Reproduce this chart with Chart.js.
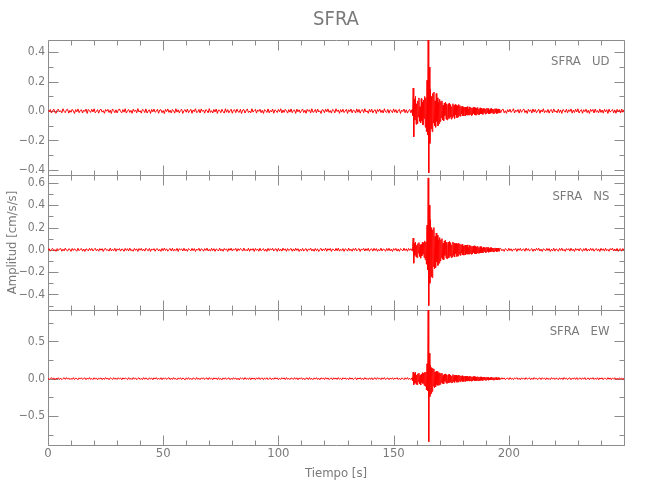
<!DOCTYPE html>
<html>
<head>
<title>SFRA</title>
<script src="https://cdn.jsdelivr.net/npm/chart.js"></script>
<style>
  body { margin: 0; background: #fff; }
  #wrap { width: 650px; height: 500px; }
</style>
</head>
<body>
<div id="wrap"><canvas id="seismo" width="650" height="500"></canvas></div>
<script>
// station / components
const station = 'SFRA';
const channels = ['UD', 'NS', 'EW'];

// sampling of the traces (s): quiet part, event part, coda/quiet part
const preStart = 0, preStep = 0.5;
const evStart = 158, evStep = 0.25;
const postStart = 196.5, postStep = 0.5;

// axis ticks and ranges
const timeTicks = [0, 50, 100, 150, 200];
const timeRange = [0, 250];
const udTicks = [-0.4, -0.2, 0, 0.2, 0.4];
const nsTicks = [-0.4, -0.2, 0, 0.2, 0.4, 0.6];
const ewTicks = [-0.5, 0, 0.5];
const udRange = [-0.435, 0.484];
const nsRange = [-0.54, 0.671];
const ewRange = [-0.889, 0.921];

// UD component (cm/s/s)
const udPre = [
  0.006,-0.004,0.011,-0.013,0.002,0.014,-0.009,-0.015,0.008,0.012,-0.006,0.003,-0.012,0.016,-0.002,-0.011,0.009,0.013,-0.014,0.005,
  -0.008,0.012,0.001,-0.016,0.01,-0.005,0.015,-0.011,0.004,0.009,-0.013,0.007,-0.003,0.014,-0.016,0.011,0.002,-0.009,0.012,-0.006,
  0.016,-0.012,-0.003,0.01,-0.014,0.008,0.013,-0.007,0.003,-0.015,0.011,-0.001,0.012,-0.01,0.006,-0.016,0.014,0.004,-0.011,0.009,
  -0.013,0.007,0.015,-0.004,-0.012,0.01,-0.007,0.016,-0.014,0.002,0.011,-0.009,0.005,-0.015,0.013,-0.003,0.008,-0.012,0.017,-0.006,
  0.003,-0.014,0.012,0.006,-0.01,0.015,-0.013,0.001,0.009,-0.016,0.011,-0.005,0.014,-0.008,-0.002,0.013,-0.015,0.007,0.01,-0.011,
  0.004,-0.017,0.012,-0.003,0.015,-0.009,0.006,-0.013,0.011,0.002,-0.014,0.016,-0.007,0.009,-0.012,0.005,0.013,-0.016,0.003,0.01,
  -0.008,0.014,-0.011,0.001,0.012,-0.015,0.008,-0.004,0.016,-0.01,-0.006,0.011,-0.013,0.015,-0.002,0.007,-0.014,0.01,0.004,-0.012,
  0.017,-0.009,0.003,-0.013,0.011,-0.006,0.014,-0.016,0.008,0.005,-0.011,0.012,-0.003,-0.014,0.016,-0.008,0.01,-0.012,0.002,0.013,
  -0.015,0.006,0.009,-0.011,0.014,-0.004,-0.009,0.012,-0.016,0.007,0.011,-0.013,0.003,0.015,-0.01,0.001,-0.012,0.016,-0.007,0.004,
  0.012,-0.014,0.008,-0.002,0.013,-0.011,0.006,-0.016,0.01,0.003,-0.009,0.015,-0.012,0.005,-0.006,0.014,-0.015,0.009,0.002,-0.01,
  0.011,-0.004,0.016,-0.013,0.007,-0.009,0.012,0.001,-0.014,0.01,-0.007,0.015,-0.011,0.004,0.008,-0.016,0.013,-0.005,0.009,-0.012,
  0.003,0.014,-0.01,0.006,-0.015,0.012,-0.002,0.009,-0.013,0.016,-0.008,-0.004,0.011,-0.012,0.014,-0.006,0.002,-0.016,0.01,0.007,
  -0.011,0.013,-0.005,0.015,-0.009,0.004,-0.014,0.011,0.006,-0.012,0.016,-0.003,0.008,-0.015,0.01,-0.007,0.013,-0.01,0.001,0.012,
  -0.016,0.009,-0.004,0.014,-0.012,0.007,0.003,-0.013,0.015,-0.008,0.011,-0.014,0.005,0.01,-0.011,0.016,-0.006,0.002,-0.015,0.012,
  -0.007,0.013,-0.012,0.004,0.009,-0.016,0.011,-0.003,0.014,-0.01,0.006,-0.013,0.016,-0.005,-0.009,0.012,-0.014,0.008,0.003,-0.011,
  0.015,-0.008,0.01,-0.013,0.005,0.012,-0.016,0.007,-0.003,0.014,-0.011,0.009,-0.014,0.004,0.011,-0.012
];
const udEvent = [
  0.01,-0.03,0.157,-0.175,
  0.08,-0.06,0.1,-0.09,0.05,-0.085,0.07,-0.04,0.09,-0.07,0.03,-0.08,0.085,-0.065,0.06,-0.095,0.075,-0.05,0.1,-0.11,0.09,
  -0.14,0.21,-0.16,0.484,
  -0.42,0.3,-0.22,
  0.15,-0.12,0.1,-0.14,0.12,-0.08,0.13,-0.1,0.07,-0.11,0.12,-0.07,0.09,-0.1,0.06,-0.085,0.08,
  -0.07,0.065,-0.045,0.07,-0.06,0.04,-0.065,0.055,-0.03,0.06,
  -0.055,0.05,-0.06,0.035,0.05,-0.05,0.055,-0.04,0.045,-0.055,
  0.03,-0.045,0.05,-0.035,0.04,-0.05,0.045,-0.025,0.04,-0.045,
  0.035,-0.04,0.045,-0.03,0.038,
  -0.035,0.03,-0.02,0.034,-0.03,0.025,-0.033,0.018,0.028,-0.031,
  0.026,-0.024,0.03,-0.028,0.015,-0.026,0.029,-0.022,0.025,-0.03,
  0.02,-0.027,0.024,-0.016,0.026,-0.025,0.022,-0.028,0.018,-0.02,
  0.025,-0.023,0.014,-0.024,0.022,-0.019,
  0.021,-0.018,0.012,-0.022,0.019,-0.01,0.017,-0.02,0.015,-0.016,
  0.02,-0.012,0.018,-0.019,0.008,-0.017,0.016,-0.014,0.019,-0.011,
  0.014,-0.018,0.012,-0.015,0.017,-0.009,0.016,-0.017,0.011,-0.014,
  0.015,-0.012,0.013
];
const udPost = [
  -0.011,0.008,0.014,-0.012,0.003,-0.015,0.01,-0.006,0.013,-0.009,0.002,0.016,-0.013,0.007,-0.004,0.011,-0.014,0.012,-0.008,0.005,
  0.015,-0.01,0.004,-0.016,0.012,-0.003,0.009,-0.013,0.014,-0.007,0.011,-0.012,0.001,0.013,-0.015,0.008,-0.006,0.016,-0.011,0.003,
  -0.009,0.012,-0.014,0.006,0.01,-0.013,0.015,-0.005,0.002,-0.012,0.014,-0.01,0.008,-0.016,0.011,0.004,-0.008,0.013,-0.012,0.009,
  -0.003,0.015,-0.014,0.007,-0.01,0.012,-0.006,0.016,-0.013,0.002,0.01,-0.015,0.009,-0.004,0.013,-0.011,0.006,-0.016,0.012,-0.002,
  0.011,-0.013,0.014,-0.008,0.004,-0.012,0.015,-0.009,0.007,-0.014,0.012,-0.005,0.01,-0.016,0.013,-0.007,0.003,0.011,-0.012,0.008,
  -0.015,0.012,-0.004,0.009,-0.013,0.014,-0.008,0.01
];

// NS component
const nsPre = [
  -0.007,0.01,-0.012,0.004,0.013,-0.009,0.002,-0.014,0.011,-0.005,0.008,0.012,-0.013,0.006,-0.01,0.015,-0.003,-0.011,0.009,0.005,
  -0.014,0.012,-0.006,0.01,-0.002,-0.013,0.014,-0.008,0.004,0.011,-0.012,0.007,-0.015,0.009,0.003,-0.01,0.013,-0.006,0.012,-0.011,
  0.002,0.014,-0.009,0.006,-0.013,0.011,-0.004,0.01,-0.015,0.008,0.012,-0.007,0.003,-0.012,0.015,-0.01,0.005,-0.008,0.013,-0.014,
  0.009,-0.003,0.011,-0.012,0.007,0.004,-0.014,0.013,-0.006,0.01,-0.011,0.015,-0.008,0.002,-0.013,0.012,-0.005,0.009,-0.015,0.011,
  -0.004,0.013,-0.01,0.006,-0.012,0.014,0.001,-0.009,0.012,-0.015,0.008,-0.003,0.011,-0.013,0.007,0.01,-0.011,0.004,-0.014,0.012,
  -0.008,0.015,-0.006,0.009,-0.013,0.003,0.012,-0.01,0.014,-0.012,0.005,-0.007,0.013,-0.015,0.01,-0.002,0.008,-0.011,0.014,-0.009,
  0.006,-0.014,0.012,0.002,-0.01,0.013,-0.008,0.011,-0.015,0.007,-0.004,0.014,-0.012,0.009,0.003,-0.013,0.011,-0.006,0.015,-0.01,
  0.004,-0.012,0.013,-0.007,0.01,-0.014,0.008,0.001,-0.011,0.015,-0.009,0.006,-0.013,0.012,-0.003,0.009,-0.015,0.011,-0.005,0.014,
  -0.011,0.007,-0.002,0.013,-0.014,0.01,-0.006,0.012,0.004,-0.012,0.015,-0.008,0.003,-0.01,0.014,-0.013,0.009,-0.004,0.011,-0.015,
  0.012,-0.005,0.008,-0.013,0.014,-0.009,0.002,0.011,-0.012,0.006,-0.015,0.013,-0.007,0.01,-0.003,0.014,-0.011,0.005,0.009,-0.014,
  0.013,-0.01,0.006,-0.012,0.015,-0.004,0.009,-0.014,0.011,-0.007,0.003,0.012,-0.013,0.008,-0.011,0.014,-0.006,0.01,-0.015,0.005,
  -0.009,0.013,-0.012,0.004,0.011,-0.014,0.007,-0.002,0.015,-0.01,0.006,-0.013,0.012,-0.008,0.009,-0.015,0.003,0.013,-0.011,0.008,
  -0.006,0.014,-0.013,0.01,-0.004,0.012,-0.015,0.007,0.002,-0.011,0.013,-0.009,0.015,-0.012,0.005,-0.007,0.011,-0.014,0.009,0.003,
  -0.012,0.015,-0.008,0.006,-0.013,0.011,-0.005,0.014,-0.01,0.002,0.012,-0.015,0.008,-0.003,0.013,-0.011,0.01,-0.007,0.014,-0.013,
  0.005,0.009,-0.012,0.013,-0.006,0.011,-0.014,0.004,-0.009,0.015,-0.011,0.007,0.003,-0.013,0.012,-0.008,0.014,-0.01,0.006,-0.015,
  0.011,-0.004,0.013,-0.012,0.008,-0.014,0.01,0.002,-0.011,0.015,-0.007,0.009,-0.013,0.012,-0.005,0.01
];
const nsEvent = [
  -0.01,0.03,0.105,-0.12,
  0.06,-0.05,0.07,-0.065,0.04,-0.07,0.055,-0.03,0.065,-0.06,0.045,-0.075,0.05,-0.055,0.07,-0.04,0.06,-0.07,0.08,-0.09,0.07,
  -0.13,0.22,-0.18,0.645,
  -0.5,0.4,-0.3,
  0.27,-0.24,0.2,-0.25,0.18,-0.15,0.2,-0.17,0.12,-0.16,0.15,-0.11,0.13,-0.14,0.09,-0.12,0.11,
  -0.1,0.09,-0.07,0.1,-0.085,0.06,-0.09,0.08,-0.05,0.085,
  -0.075,0.07,-0.08,0.05,0.07,-0.07,0.075,-0.055,0.065,-0.07,
  0.045,-0.065,0.07,-0.05,0.06,-0.065,0.055,-0.035,0.058,-0.06,
  0.05,-0.055,0.06,-0.04,0.052,
  -0.05,0.045,-0.03,0.05,-0.046,0.035,-0.048,0.028,0.042,-0.045,
  0.04,-0.036,0.044,-0.04,0.022,-0.038,0.042,-0.032,0.036,-0.04,
  0.03,-0.038,0.034,-0.024,0.036,-0.034,0.03,-0.037,0.025,-0.028,
  0.032,-0.03,0.02,-0.031,0.028,-0.026,
  0.028,-0.025,0.016,-0.027,0.024,-0.014,0.022,-0.025,0.019,-0.021,
  0.024,-0.015,0.021,-0.022,0.01,-0.02,0.019,-0.017,0.02,-0.013,
  0.016,-0.019,0.014,-0.016,0.017,-0.01,0.016,-0.017,0.012,-0.014,
  0.015,-0.012,0.013
];
const nsPost = [
  0.012,-0.009,0.005,-0.014,0.011,0.003,-0.012,0.014,-0.007,0.009,-0.013,0.006,-0.002,0.012,-0.015,0.01,-0.005,0.013,-0.011,0.004,
  0.008,-0.013,0.015,-0.006,0.01,-0.012,0.002,0.011,-0.014,0.007,-0.009,0.013,-0.004,0.014,-0.011,0.006,-0.015,0.009,0.003,-0.01,
  0.013,-0.007,0.011,-0.015,0.005,-0.01,0.014,-0.012,0.008,0.002,-0.013,0.012,-0.006,0.015,-0.009,0.004,-0.014,0.011,-0.003,0.01,
  -0.012,0.014,-0.008,0.006,-0.015,0.012,-0.004,0.009,-0.011,0.013,0.001,-0.014,0.01,-0.007,0.015,-0.012,0.005,-0.009,0.014,-0.006,
  0.011,-0.013,0.003,0.012,-0.01,0.008,-0.015,0.013,-0.005,0.009,-0.012,0.014,-0.008,0.004,-0.013,0.011,-0.002,0.015,-0.011,0.007,
  -0.01,0.013,-0.014,0.006,0.009,-0.012,0.011,-0.005
];

// EW component
const ewPre = [
  0.009,-0.012,0.004,0.014,-0.008,0.011,-0.015,0.006,-0.003,0.013,-0.011,0.008,-0.014,0.002,0.012,-0.009,0.015,-0.006,0.01,-0.013,
  0.005,-0.01,0.014,-0.012,0.007,0.003,-0.015,0.011,-0.005,0.013,-0.009,0.001,0.012,-0.014,0.008,-0.006,0.015,-0.011,0.004,-0.012,
  0.013,-0.007,0.01,-0.014,0.006,-0.002,0.012,-0.013,0.009,-0.01,0.015,-0.005,0.008,-0.015,0.011,0.003,-0.012,0.014,-0.008,0.007,
  -0.011,0.013,-0.004,0.01,-0.015,0.012,-0.006,0.009,0.002,-0.013,0.014,-0.009,0.005,-0.012,0.015,-0.007,0.011,-0.014,0.003,0.012,
  -0.01,0.006,-0.013,0.015,-0.008,0.011,-0.003,-0.012,0.013,-0.006,0.009,-0.015,0.012,-0.004,0.014,-0.011,0.007,-0.009,0.013,-0.014,
  0.01,-0.005,0.012,-0.011,0.004,0.014,-0.013,0.008,-0.01,0.015,-0.007,0.003,-0.014,0.011,-0.006,0.013,-0.012,0.009,-0.002,-0.015,
  0.012,-0.008,0.014,-0.01,0.006,-0.013,0.011,0.002,-0.012,0.015,-0.009,0.007,-0.014,0.01,-0.004,0.013,-0.011,0.005,0.01,-0.013,
  0.015,-0.006,0.009,-0.014,0.012,-0.003,0.008,-0.012,0.014,-0.01,0.004,-0.015,0.011,-0.007,0.013,-0.009,0.002,0.012,-0.014,0.006,
  -0.011,0.014,-0.005,0.01,-0.013,0.007,-0.016,0.012,-0.002,0.009,-0.012,0.015,-0.008,0.005,-0.01,0.013,-0.014,0.011,-0.004,0.008,
  -0.013,0.012,-0.007,0.015,-0.011,0.003,0.01,-0.014,0.009,-0.006,0.013,-0.012,0.004,0.011,-0.015,0.008,-0.009,0.014,-0.005,0.012,
  -0.014,0.006,-0.01,0.013,-0.003,0.011,-0.012,0.015,-0.008,0.005,-0.013,0.009,0.002,-0.011,0.014,-0.007,0.012,-0.015,0.01,-0.004,
  0.013,-0.011,0.008,-0.014,0.006,0.01,-0.012,0.015,-0.009,0.003,-0.013,0.011,-0.006,0.014,-0.01,0.007,-0.015,0.012,-0.002,0.009,
  -0.012,0.014,-0.007,0.011,-0.013,0.004,0.009,-0.015,0.012,-0.005,0.01,-0.011,0.015,-0.008,0.006,-0.014,0.013,-0.003,0.011,-0.01,
  0.007,-0.013,0.014,-0.006,0.01,-0.012,0.003,0.012,-0.015,0.009,-0.004,0.013,-0.011,0.008,-0.014,0.015,-0.007,0.005,-0.012,0.011,
  -0.009,0.013,-0.015,0.006,0.011,-0.01,0.014,-0.004,0.008,-0.013,0.012,-0.007,0.015,-0.011,0.002,0.01,-0.014,0.009,-0.006,0.013,
  -0.012,0.008,-0.003,0.014,-0.011,0.006,-0.015,0.01,0.004,-0.013,0.012,-0.008,0.015,-0.01,0.005,-0.012
];
const ewEvent = [
  0.012,-0.03,0.09,-0.08,
  0.07,-0.06,0.085,-0.075,0.05,-0.08,0.065,-0.04,0.075,-0.07,0.045,-0.085,0.06,-0.05,0.08,-0.065,0.07,-0.09,0.085,-0.1,0.09,
  -0.15,0.2,-0.16,0.92,
  -0.845,0.34,-0.24,
  0.18,-0.2,0.15,-0.17,0.14,-0.1,0.13,-0.12,0.09,-0.11,0.1,-0.08,0.095,-0.09,0.07,-0.085,0.08,
  -0.075,0.07,-0.05,0.075,-0.065,0.045,-0.07,0.06,-0.035,0.065,
  -0.06,0.055,-0.06,0.04,0.055,-0.055,0.06,-0.045,0.05,-0.055,
  0.035,-0.05,0.055,-0.04,0.045,-0.05,0.045,-0.03,0.045,-0.048,
  0.04,-0.045,0.048,-0.032,0.042,
  -0.04,0.036,-0.025,0.04,-0.036,0.028,-0.038,0.022,0.034,-0.036,
  0.032,-0.028,0.035,-0.032,0.018,-0.03,0.034,-0.026,0.03,-0.033,
  0.024,-0.03,0.028,-0.02,0.029,-0.028,0.025,-0.03,0.02,-0.024,
  0.027,-0.025,0.017,-0.026,0.024,-0.022,
  0.024,-0.021,0.014,-0.024,0.021,-0.012,0.02,-0.022,0.017,-0.019,
  0.021,-0.013,0.019,-0.02,0.009,-0.018,0.017,-0.016,0.019,-0.012,
  0.015,-0.018,0.013,-0.016,0.016,-0.01,0.016,-0.016,0.011,-0.014,
  0.015,-0.012,0.013
];
const ewPost = [
  -0.01,0.013,-0.006,0.011,-0.014,0.004,0.009,-0.012,0.015,-0.008,0.006,-0.013,0.011,-0.003,0.014,-0.01,0.007,-0.015,0.012,-0.005,
  0.009,-0.011,0.014,-0.007,0.002,0.012,-0.013,0.008,-0.01,0.015,-0.006,0.01,-0.014,0.005,0.011,-0.012,0.013,-0.004,0.008,-0.015,
  0.012,-0.009,0.004,-0.013,0.014,-0.006,0.011,-0.011,0.007,0.003,-0.014,0.013,-0.008,0.01,-0.012,0.015,-0.005,0.009,-0.013,0.006,
  0.011,-0.015,0.008,-0.004,0.013,-0.01,0.014,-0.012,0.005,0.009,-0.011,0.012,-0.007,0.015,-0.013,0.003,0.01,-0.014,0.011,-0.006,
  0.014,-0.011,0.006,-0.009,0.013,-0.015,0.01,-0.003,0.012,-0.013,0.008,0.004,-0.012,0.014,-0.007,0.011,-0.014,0.009,-0.005,0.013,
  -0.011,0.007,-0.013,0.012,-0.004,0.01,-0.014,0.009
];

const FONT = "'Liberation Sans Narrow', 'DejaVu Sans Condensed', 'Liberation Sans', sans-serif";
const axisColor = '#8c8c8c';
const textColor = '#7a7a7a';
const traceColor = '#ff0000';

function trace(pre, ev, post) {
  const pts = [];
  pre.forEach((v, i) => pts.push({ x: preStart + i * preStep, y: v }));
  ev.forEach((v, i) => pts.push({ x: evStart + i * evStep, y: v }));
  post.forEach((v, i) => pts.push({ x: postStart + i * postStep, y: v }));
  return pts;
}

function fmtAmp(v) {
  if (Math.abs(v) < 1e-9) return '0.0';
  return (v < 0 ? '\u2212' : '') + Math.abs(v).toFixed(1);
}

function yAxis(range, ticks, weight, extra) {
  return Object.assign({
    type: 'linear',
    position: 'left',
    stack: 'panels',
    stackWeight: 1,
    weight: weight,
    min: range[0],
    max: range[1],
    afterBuildTicks: s => { s.ticks = ticks.map(v => ({ value: v })); },
    afterFit: s => { s.width = 48; },
    grid: { display: false, drawTicks: false },
    border: { display: false },
    ticks: { color: textColor, font: { family: FONT, size: 12 }, padding: 3, autoSkip: false, callback: fmtAmp }
  }, extra || {});
}

const panelAxes = ['yUD', 'yNS', 'yEW'];

// box around every panel, inward ticks, component label
const framePlugin = {
  id: 'frames',
  beforeDatasetsDraw(chart) {
    const ctx = chart.ctx;
    const xs = chart.scales.x;
    const area = chart.chartArea;
    const l = Math.round(area.left) + 0.5;
    const r = Math.round(area.right) + 0.5;
    ctx.save();
    ctx.strokeStyle = axisColor;
    ctx.lineWidth = 1;
    ctx.beginPath();
    panelAxes.forEach(id => {
      const s = chart.scales[id];
      const top = Math.round(s.top) + 0.5;
      const bot = Math.round(s.bottom) + 0.5;
      ctx.rect(l, top, r - l, bot - top);
      const vals = s.ticks.map(t => t.value);
      const half = (vals[1] - vals[0]) / 2;
      const k0 = Math.ceil(s.min / half - 1e-6), k1 = Math.floor(s.max / half + 1e-6);
      for (let k = k0; k <= k1; k++) {
        const len = k % 2 === 0 ? 10 : 5;
        const y = Math.round(s.getPixelForValue(k * half)) + 0.5;
        ctx.moveTo(l, y); ctx.lineTo(l + len, y);
        ctx.moveTo(r, y); ctx.lineTo(r - len, y);
      }
      for (let t = xs.min; t <= xs.max; t += 10) {
        const len = t % 50 === 0 ? 10 : 5;
        const x = Math.round(xs.getPixelForValue(t)) + 0.5;
        ctx.moveTo(x, top); ctx.lineTo(x, top + len);
        ctx.moveTo(x, bot); ctx.lineTo(x, bot - len);
      }
    });
    ctx.stroke();
    ctx.fillStyle = textColor;
    ctx.font = '13px ' + FONT;
    ctx.textAlign = 'right';
    ctx.textBaseline = 'middle';
    panelAxes.forEach((id, i) => {
      const s = chart.scales[id];
      ctx.fillText(station + '   ' + channels[i], r - 15, s.top + 22);
    });
    ctx.restore();
  }
};

const lineStyle = {
  borderColor: traceColor,
  borderWidth: 1,
  borderJoinStyle: 'bevel',
  pointRadius: 0,
  fill: false,
  tension: 0
};

new Chart(document.getElementById('seismo'), {
  type: 'line',
  data: {
    datasets: [
      Object.assign({ label: channels[0], data: trace(udPre, udEvent, udPost), yAxisID: 'yUD' }, lineStyle),
      Object.assign({ label: channels[1], data: trace(nsPre, nsEvent, nsPost), yAxisID: 'yNS' }, lineStyle),
      Object.assign({ label: channels[2], data: trace(ewPre, ewEvent, ewPost), yAxisID: 'yEW' }, lineStyle)
    ]
  },
  options: {
    responsive: false,
    animation: false,
    events: [],
    layout: { padding: { left: 0, right: 26, top: 0, bottom: 0 } },
    plugins: {
      legend: { display: false },
      tooltip: { enabled: false },
      title: {
        display: true,
        text: station,
        fullSize: false,
        color: textColor,
        font: { family: FONT, size: 20, weight: 'normal', lineHeight: 1.2 },
        padding: { top: 8, bottom: 8 }
      }
    },
    scales: {
      x: {
        type: 'linear',
        position: 'bottom',
        min: timeRange[0],
        max: timeRange[1],
        afterBuildTicks: s => { s.ticks = timeTicks.map(v => ({ value: v })); },
        afterFit: s => { s.height = 55; },
        grid: { display: false, drawTicks: false },
        border: { display: false },
        ticks: { color: textColor, font: { family: FONT, size: 13 }, padding: 1, maxRotation: 0, autoSkip: false, callback: v => String(v) },
        title: { display: true, text: 'Tiempo [s]', color: textColor, font: { family: FONT, size: 13 }, padding: { top: 0, bottom: 19 } }
      },
      yUD: yAxis(udRange, udTicks, 3),
      yNS: yAxis(nsRange, nsTicks, 2, {
        title: { display: true, text: 'Amplitud [cm/s/s]', color: textColor, font: { family: FONT, size: 13 }, padding: { top: 5, bottom: 0 } }
      }),
      yEW: yAxis(ewRange, ewTicks, 1)
    }
  },
  plugins: [framePlugin]
});
</script>
</body>
</html>
